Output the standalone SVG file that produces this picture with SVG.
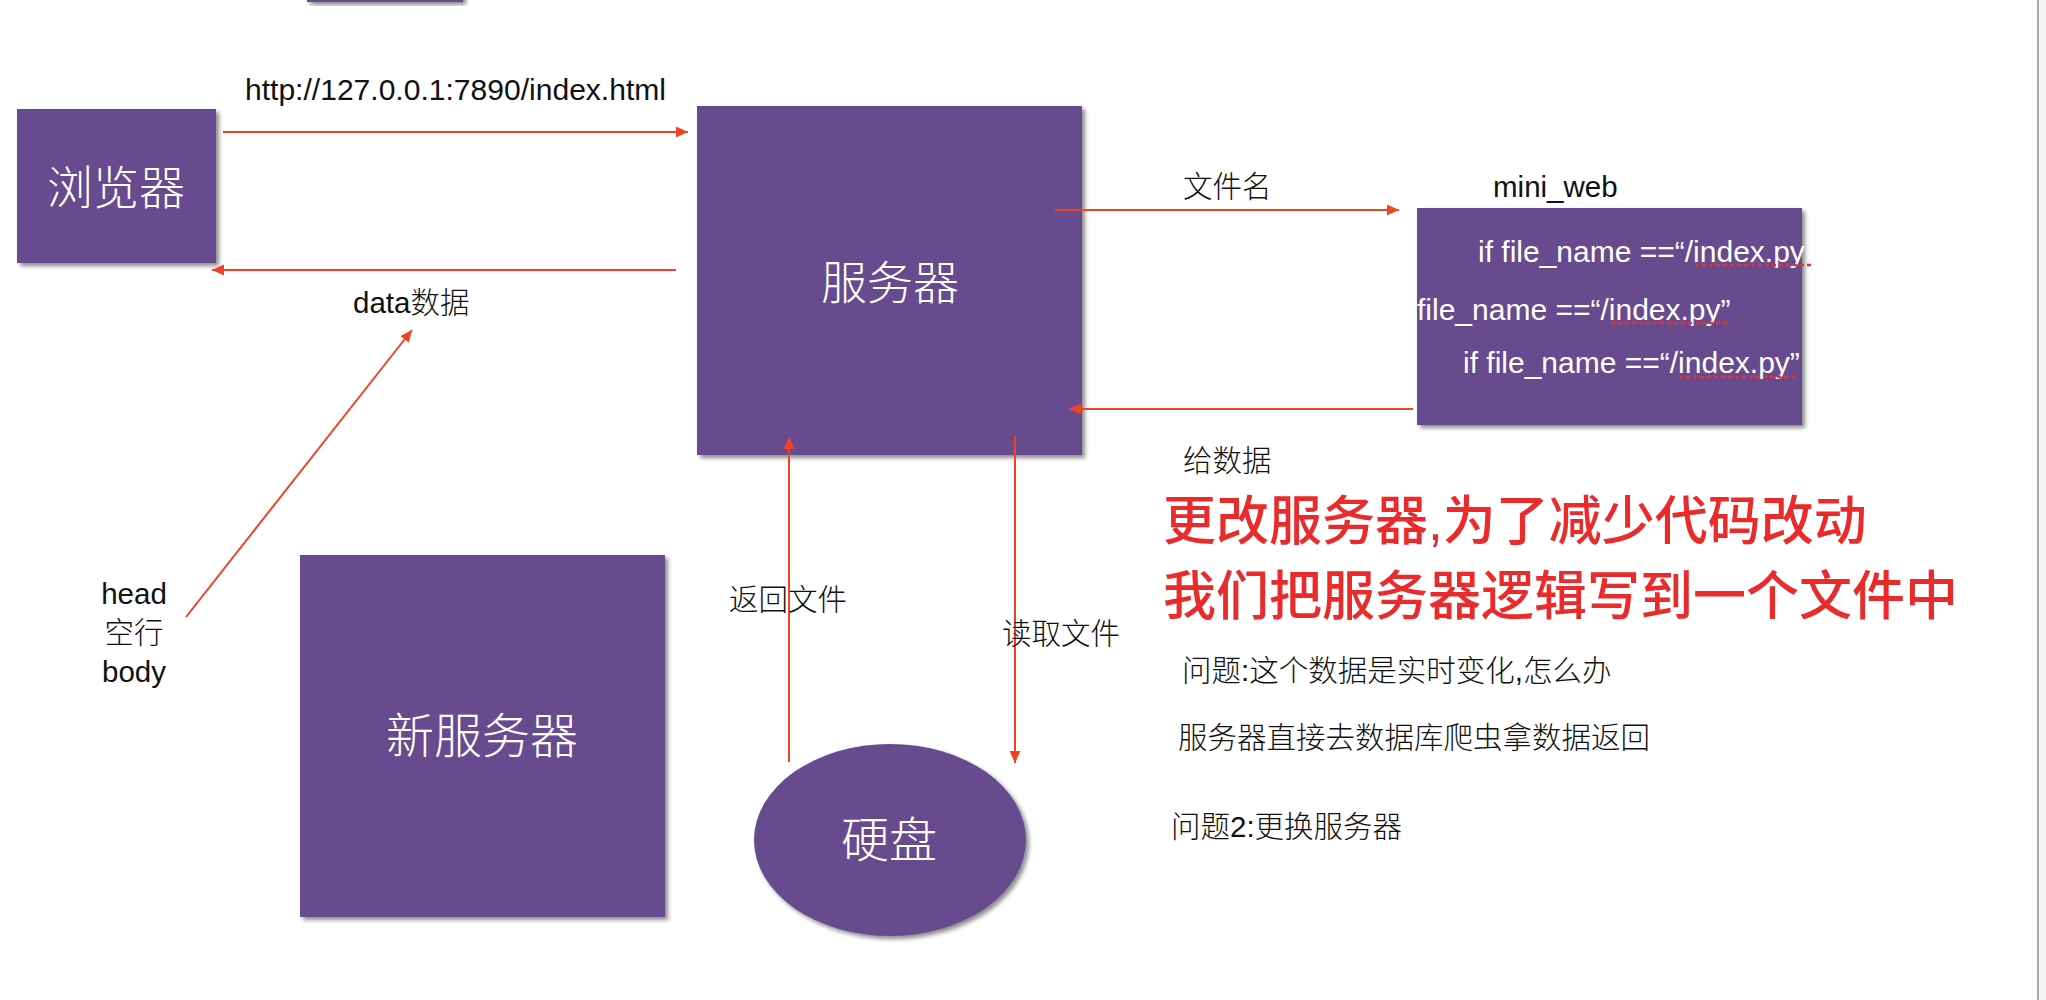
<svg xmlns="http://www.w3.org/2000/svg" width="2046" height="1000" viewBox="0 0 2046 1000">
<defs>
<filter id="sh" x="-10%" y="-10%" width="125%" height="125%">
<feDropShadow dx="3" dy="3" stdDeviation="2" flood-color="#000" flood-opacity="0.45"/>
</filter>
<marker id="ah" markerUnits="userSpaceOnUse" markerWidth="13" markerHeight="12" refX="12" refY="5.5" orient="auto">
<path d="M0,0 L12,5.5 L0,11 z" fill="#EE4426"/>
</marker>
</defs>
<style>
.node{fill:#674C8F;filter:url(#sh)}
.wl{fill:#fff;font-family:"Liberation Sans","Noto Sans CJK SC",sans-serif;font-weight:300;text-anchor:middle}
.lbl{fill:#111;font-family:"Liberation Sans","Noto Sans CJK SC",sans-serif;font-size:29.5px;font-weight:300}
.code{fill:#fff;font-family:"Liberation Sans","Noto Sans CJK SC",sans-serif;font-size:30px}
.red{fill:#E92B2B;font-family:"Liberation Sans","Noto Sans CJK SC",sans-serif;font-size:53px;font-weight:500}
.con line{stroke:#EE4426;stroke-width:2;marker-end:url(#ah)}
.dot{stroke:#E8322A;stroke-width:2.5;stroke-dasharray:4 3}
</style>
<rect x="0" y="0" width="2046" height="1000" fill="#fff"/>
<rect x="2037" y="0" width="2" height="1000" fill="#A9A9A9"/>
<rect x="2039" y="0" width="7" height="1000" fill="#F4F4F4"/>

<g id="top-fragment"><rect class="node" x="307" y="-20" width="156" height="22"/></g>

<g id="browser">
<rect class="node" x="17" y="109" width="199" height="154"/>
<text class="wl" x="116" y="204" font-size="46">浏览器</text>
</g>

<g id="server">
<rect class="node" x="697" y="106" width="385" height="349"/>
<text class="wl" x="890" y="299" font-size="46">服务器</text>
</g>

<g id="mini_web">
<text class="lbl" x="1493" y="197">mini_web</text>
<rect class="node" x="1417" y="208" width="385" height="217"/>
<text class="code" x="1478" y="262">if file_name ==“/index.py</text>
<text class="code" x="1417" y="320">file_name ==“/index.py”</text>
<text class="code" x="1463" y="373">if file_name ==“/index.py”</text>
<line class="dot" x1="1695" y1="265" x2="1813" y2="265"/>
<line class="dot" x1="1611" y1="323" x2="1728" y2="323"/>
<line class="dot" x1="1679" y1="377" x2="1797" y2="377"/>
</g>

<g id="new-server">
<rect class="node" x="300" y="555" width="365" height="362"/>
<text class="wl" x="482" y="753" font-size="48">新服务器</text>
</g>

<g id="disk">
<ellipse class="node" cx="890" cy="840" rx="136" ry="96"/>
<text class="wl" x="889" y="857" font-size="48">硬盘</text>
</g>

<g class="con" id="connectors">
<line x1="223" y1="132" x2="688" y2="132"/>
<line x1="676" y1="270" x2="212" y2="270"/>
<line x1="1055" y1="210" x2="1399" y2="210"/>
<line x1="1413" y1="409" x2="1069" y2="409"/>
<line x1="789" y1="762" x2="789" y2="437"/>
<line x1="1015" y1="436" x2="1015" y2="763"/>
<line x1="186" y1="617" x2="412" y2="330"/>
</g>

<g id="labels">
<text class="lbl" x="245" y="100" font-size="30" textLength="421" lengthAdjust="spacingAndGlyphs">http://127.0.0.1:7890/index.html</text>
<text class="lbl" x="353" y="313">data数据</text>
<text class="lbl" x="1183" y="197">文件名</text>
<text class="lbl" x="1183" y="471">给数据</text>
<text class="lbl" x="729" y="610">返回文件</text>
<text class="lbl" x="1002" y="644">读取文件</text>
<text class="lbl" x="134" y="604" text-anchor="middle">head</text>
<text class="lbl" x="134" y="643" text-anchor="middle">空行</text>
<text class="lbl" x="134" y="682" text-anchor="middle">body</text>
<text class="red" x="1163" y="540">更改服务器,为了减少代码改动</text>
<text class="red" x="1163" y="615">我们把服务器逻辑写到一个文件中</text>
<text class="lbl" x="1182" y="681">问题:这个数据是实时变化,怎么办</text>
<text class="lbl" x="1178" y="748">服务器直接去数据库爬虫拿数据返回</text>
<text class="lbl" x="1171" y="837">问题2:更换服务器</text>
</g>
</svg>
